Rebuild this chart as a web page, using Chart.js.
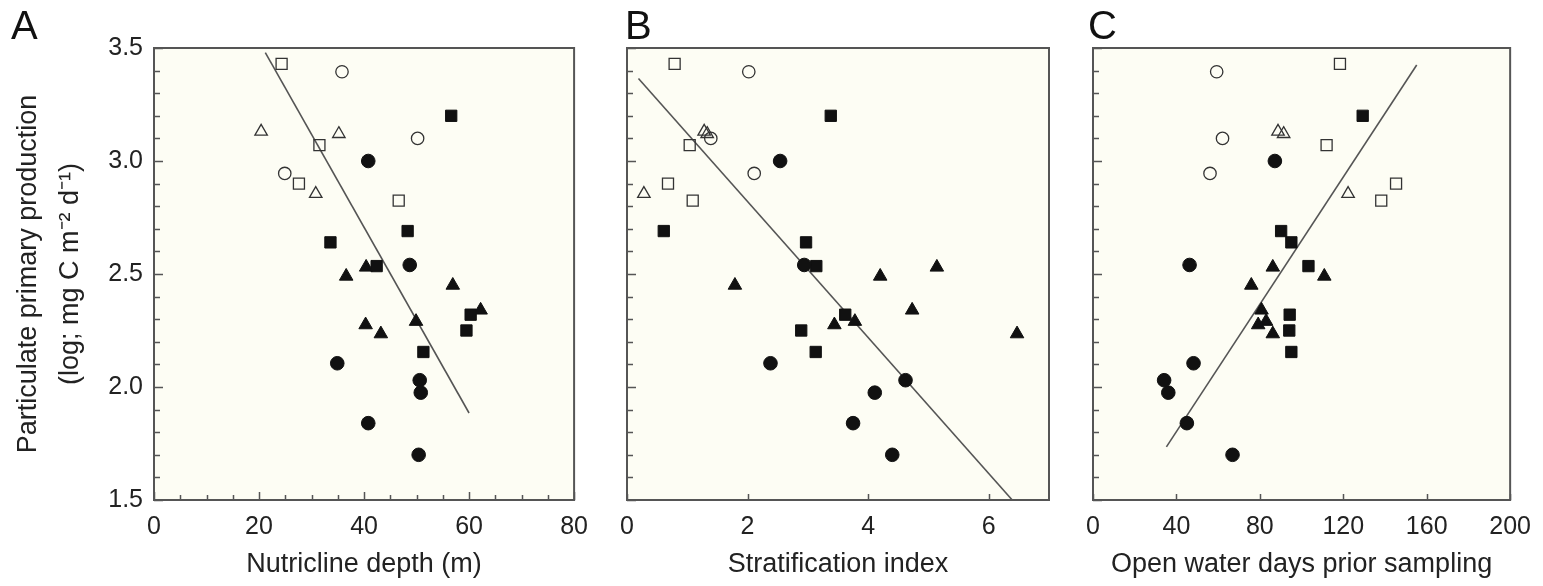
<!DOCTYPE html>
<html>
<head>
<meta charset="utf-8">
<script src="https://cdn.jsdelivr.net/npm/chart.js@4.4.1/dist/chart.umd.min.js"></script>
<style>
  html, body { margin: 0; padding: 0; background: #fff; }
  #wrap { position: relative; width: 1543px; height: 586px; overflow: hidden; }
  canvas { position: absolute; top: 0; }
  .tag { position: absolute; top: 5px; font: 40px "Liberation Sans", Arial, sans-serif; line-height: 40px; color: #111; }
</style>
</head>
<body>
<div id="wrap">
  <canvas id="chartA" width="600" height="586" style="left:0"></canvas>
  <canvas id="chartB" width="470" height="586" style="left:600px"></canvas>
  <canvas id="chartC" width="473" height="586" style="left:1070px"></canvas>
  <div class="tag" style="left:11px">A</div>
  <div class="tag" style="left:625px">B</div>
  <div class="tag" style="left:1088px">C</div>
</div>
<script>
// --- primary production (log; mg C m-2 d-1), same stations in every panel ---
const ppOpenSquare     = [3.43, 3.07, 2.90, 2.825];
const ppOpenCircle     = [3.395, 3.10, 2.945];
const ppOpenTriangle   = [3.13, 3.12, 2.855];
const ppFilledCircle   = [3.00, 2.54, 2.105, 2.03, 1.975, 1.84, 1.70];
const ppFilledSquare   = [3.20, 2.69, 2.64, 2.535, 2.32, 2.25, 2.155];
const ppFilledTriangle = [2.53, 2.49, 2.45, 2.34, 2.29, 2.275, 2.235];

// --- A: nutricline depth (m) ---
const depthOpenSquare     = [24.3, 31.5, 27.6, 46.6];
const depthOpenCircle     = [35.8, 50.2, 24.9];
const depthOpenTriangle   = [20.4, 35.2, 30.8];
const depthFilledCircle   = [40.8, 48.7, 34.9, 50.6, 50.8, 40.8, 50.4];
const depthFilledSquare   = [56.6, 48.3, 33.6, 42.4, 60.3, 59.5, 51.3];
const depthFilledTriangle = [40.4, 36.6, 56.9, 62.2, 49.9, 40.3, 43.2];
const depthFitX = [21.2, 60.0];
const depthFitY = [3.48, 1.885];

// --- B: stratification index ---
const stratOpenSquare     = [0.79, 1.04, 0.68, 1.09];
const stratOpenCircle     = [2.02, 1.39, 2.11];
const stratOpenTriangle   = [1.28, 1.33, 0.28];
const stratFilledCircle   = [2.54, 2.94, 2.38, 4.62, 4.11, 3.75, 4.40];
const stratFilledSquare   = [3.38, 0.61, 2.97, 3.14, 3.62, 2.89, 3.13];
const stratFilledTriangle = [5.14, 4.20, 1.79, 4.73, 3.78, 3.44, 6.47];
const stratFitX = [0.19, 6.39];
const stratFitY = [3.365, 1.5];

// --- C: open water days prior sampling ---
const daysOpenSquare     = [118.4, 112, 145.3, 138.2];
const daysOpenCircle     = [59.3, 62.1, 56.1];
const daysOpenTriangle   = [88.7, 91.4, 122.3];
const daysFilledCircle   = [87.2, 46.3, 48.2, 34.1, 36.1, 45.0, 66.9];
const daysFilledSquare   = [129.3, 90.2, 95.1, 103.3, 94.3, 94.1, 95.1];
const daysFilledTriangle = [86.2, 110.9, 75.9, 80.8, 83.0, 79.2, 86.2];
const daysFitX = [35.2, 155.2];
const daysFitY = [1.735, 3.425];

// tick labels
const ppTicks    = [1.5, 2.0, 2.5, 3.0, 3.5];
const depthTicks = [0, 20, 40, 60, 80];
const stratTicks = [0, 2, 4, 6];
const daysTicks  = [0, 40, 80, 120, 160, 200];

const FONT = '"Liberation Sans", Arial, Helvetica, sans-serif';
const INK = '#222';
const PLOT_BG = '#fdfdf4';
const FRAME = '#555';

function pts(xs, ys) {
  return xs.map((x, i) => ({ x: x, y: ys[i] }));
}

function marker(xs, ys, style, filled, radius) {
  return {
    data: pts(xs, ys),
    pointStyle: style,
    pointRadius: radius,
    pointHoverRadius: radius,
    pointBackgroundColor: filled ? '#111' : 'rgba(0,0,0,0)',
    pointBorderColor: filled ? '#111' : '#333',
    pointBorderWidth: filled ? 1 : 1.3,
    order: 0
  };
}

function fitLine(xs, ys) {
  return {
    data: pts(xs, ys),
    showLine: true,
    borderColor: '#555',
    borderWidth: 1.6,
    pointRadius: 0,
    order: 10
  };
}

// plot background, frame and inward tick marks
const frameTicks = {
  id: 'frameTicks',
  beforeDraw(chart) {
    const { ctx, chartArea: a } = chart;
    ctx.save();
    ctx.fillStyle = PLOT_BG;
    ctx.fillRect(a.left, a.top, a.right - a.left, a.bottom - a.top);
    ctx.restore();
  },
  afterDatasetsDraw(chart, args, o) {
    const { ctx, chartArea: a, scales } = chart;
    ctx.save();
    ctx.strokeStyle = FRAME;
    ctx.lineWidth = 1.5;
    ctx.beginPath();
    const xs = scales.x, ys = scales.y;
    let n = Math.round((xs.max - xs.min) / o.xMinor);
    for (let i = 0; i <= n; i++) {
      const v = xs.min + i * o.xMinor;
      const px = Math.round(xs.getPixelForValue(v)) + 0.5;
      const major = Math.abs(v / o.xMajor - Math.round(v / o.xMajor)) < 1e-6;
      ctx.moveTo(px, a.bottom);
      ctx.lineTo(px, a.bottom - (major ? o.xMajorLen : o.xMinorLen));
    }
    n = Math.round((ys.max - ys.min) / 0.1);
    for (let i = 0; i <= n; i++) {
      const v = ys.min + i * 0.1;
      const py = Math.round(ys.getPixelForValue(v)) + 0.5;
      const major = i % 5 === 0;
      ctx.moveTo(a.left, py);
      ctx.lineTo(a.left + (major ? 9 : 6), py);
    }
    ctx.stroke();
    ctx.lineWidth = 2;
    ctx.strokeRect(a.left, a.top, a.right - a.left, a.bottom - a.top);
    ctx.restore();
  }
};

function makeChart(id, sets, fit, xTicks, xMax, xTitle, tickOpts, leftW, rightPad, showY) {
  const ctx = document.getElementById(id).getContext('2d');
  return new Chart(ctx, {
    type: 'scatter',
    data: {
      datasets: [
        marker(sets[0], ppOpenSquare, 'rect', false, 7.8),
        marker(sets[1], ppOpenCircle, 'circle', false, 6.2),
        marker(sets[2], ppOpenTriangle, 'triangle', false, 7.2),
        marker(sets[3], ppFilledCircle, 'circle', true, 6.8),
        marker(sets[4], ppFilledSquare, 'rect', true, 8),
        marker(sets[5], ppFilledTriangle, 'triangle', true, 7.8),
        fitLine(fit[0], fit[1])
      ]
    },
    options: {
      responsive: false,
      animation: false,
      layout: { padding: { left: 0, right: rightPad, top: 48, bottom: 0 } },
      plugins: {
        legend: { display: false },
        tooltip: { enabled: false },
        frameTicks: tickOpts
      },
      scales: {
        x: {
          type: 'linear',
          min: 0,
          max: xMax,
          grid: { display: false, drawTicks: false },
          border: { display: false },
          afterBuildTicks: s => { s.ticks = xTicks.map(v => ({ value: v })); },
          afterFit: s => { s.height = 86; },
          ticks: {
            color: INK,
            font: { family: FONT, size: 25 },
            padding: 12,
            maxRotation: 0,
            autoSkip: false
          },
          title: {
            display: true,
            text: xTitle,
            color: INK,
            font: { family: FONT, size: 27 },
            padding: { top: 0, bottom: 5 }
          }
        },
        y: {
          type: 'linear',
          min: 1.5,
          max: 3.5,
          grid: { display: false, drawTicks: false },
          border: { display: false },
          afterBuildTicks: s => { s.ticks = ppTicks.map(v => ({ value: v })); },
          afterFit: s => { s.width = leftW; },
          ticks: {
            display: showY,
            color: INK,
            font: { family: FONT, size: 25 },
            padding: 11,
            callback: v => v.toFixed(1)
          },
          title: {
            display: showY,
            text: ['Particulate primary production', '(log; mg C m\u207B\u00B2 d\u207B\u00B9)'],
            color: INK,
            font: { family: FONT, size: 27, lineHeight: 1.556 },
            padding: { top: 8, bottom: 0 }
          }
        }
      }
    },
    plugins: [frameTicks]
  });
}

makeChart('chartA',
  [depthOpenSquare, depthOpenCircle, depthOpenTriangle, depthFilledCircle, depthFilledSquare, depthFilledTriangle],
  [depthFitX, depthFitY], depthTicks, 80, 'Nutricline depth (m)',
  { xMinor: 5, xMajor: 20, xMinorLen: 5, xMajorLen: 8 }, 154, 24, true);

makeChart('chartB',
  [stratOpenSquare, stratOpenCircle, stratOpenTriangle, stratFilledCircle, stratFilledSquare, stratFilledTriangle],
  [stratFitX, stratFitY], stratTicks, 7, 'Stratification index',
  { xMinor: 2, xMajor: 2, xMinorLen: 6, xMajorLen: 6 }, 27, 21, false);

makeChart('chartC',
  [daysOpenSquare, daysOpenCircle, daysOpenTriangle, daysFilledCircle, daysFilledSquare, daysFilledTriangle],
  [daysFitX, daysFitY], daysTicks, 200, 'Open water days prior sampling',
  { xMinor: 40, xMajor: 40, xMinorLen: 6, xMajorLen: 6 }, 23, 30, false);
</script>
</body>
</html>
